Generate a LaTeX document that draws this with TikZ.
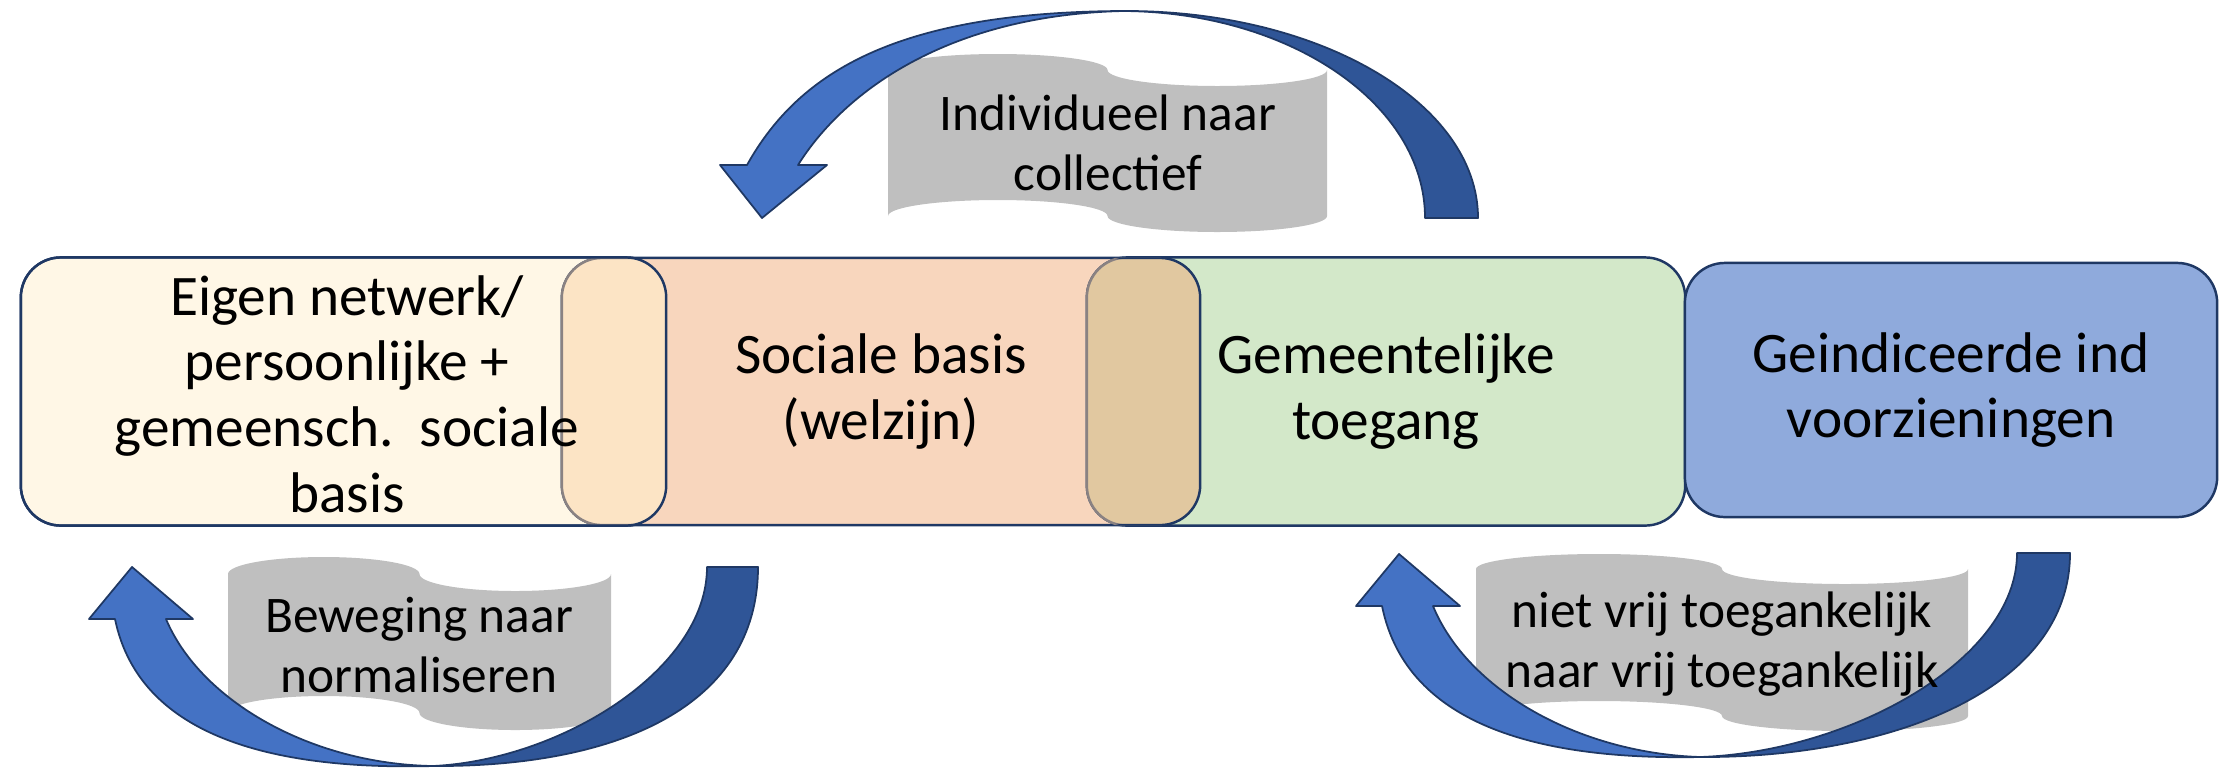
\documentclass[tikz,border=0pt]{standalone}
\usepackage{fontspec}
\setmainfont{Carlito}
\usepackage{xcolor}
\usepackage{tikz}

\definecolor{cream}{HTML}{FFF7E6}
\definecolor{peach}{HTML}{F8D6BD}
\definecolor{mint}{HTML}{D3E8C9}
\definecolor{steel}{HTML}{8FAADC}
\definecolor{overA}{HTML}{FCE4C5}
\definecolor{overB}{HTML}{E1C8A0}
\definecolor{navy}{HTML}{1F3864}
\definecolor{rimgray}{HTML}{8A8282}
\definecolor{tape}{HTML}{BFBFBF}
\definecolor{lightblue}{HTML}{4472C4}
\definecolor{darkblue}{HTML}{2F5597}

\begin{document}
\begin{tikzpicture}[x=0.01cm, y=-0.01cm,
    stage/.style={rounded corners=4mm, inner sep=0pt, outer sep=0pt, draw=navy, line width=0.7pt},
    rim/.style={rounded corners=4mm, line width=0.7pt},
    stagetext/.style={align=center, font=\fontsize{16.3}{18.7}\selectfont},
    tapetext/.style={align=center, font=\fontsize{14.6}{17}\selectfont},
    swoop/.style={draw=navy, line width=0.5pt, line join=round}]
    \useasboundingbox (0,0) rectangle (2219,769);

    \node[stage, fill=cream, minimum width=6.45cm, minimum height=2.68cm] (eigen) at (343.5,391.5) {};
    \node[stage, fill=peach, minimum width=6.38cm, minimum height=2.67cm] (sociaal) at (881,391.5) {};
    \node[stage, fill=mint, minimum width=5.98cm, minimum height=2.68cm] (toegang) at (1386,391.5) {};
    \node[stage, fill=steel, minimum width=5.32cm, minimum height=2.54cm] (indic) at (1951,390) {};

    \begin{scope}
      \clip[rounded corners=4mm] (eigen.south west) rectangle (eigen.north east);
      \fill[rim, overA] (sociaal.south west) rectangle (sociaal.north east);
      \draw[rim, rimgray] (sociaal.south west) rectangle (sociaal.north east);
    \end{scope}
    \begin{scope}
      \clip[rounded corners=4mm] (sociaal.south west) rectangle (sociaal.north east);
      \fill[rim, overB] (toegang.south west) rectangle (toegang.north east);
      \draw[rim, rimgray] (toegang.south west) rectangle (toegang.north east);
    \end{scope}
    \draw[rim, navy] (eigen.south west) rectangle (eigen.north east);
    \begin{scope}
      \clip[rounded corners=4mm] (toegang.south west) rectangle (toegang.north east);
      \draw[rim, navy] (sociaal.south west) rectangle (sociaal.north east);
    \end{scope}

    \foreach \x/\y/\q/\h/\a in {888/70/109.75/146/16, 228/574/95.75/139/17, 1476/569/123/147/15}
      \fill[tape] (\x,\y) arc[start angle=180, end angle=360, x radius=\q, y radius=\a]
        arc[start angle=180, end angle=0, x radius=\q, y radius=\a] -- ++(0,\h)
        arc[start angle=0, end angle=180, x radius=\q, y radius=\a]
        arc[start angle=360, end angle=180, x radius=\q, y radius=\a] -- cycle;

    \filldraw[swoop, fill=lightblue] (720,165) -- (762,218) -- (827,165) -- (798,165)
      .. controls (845,90) and (950,15) .. (1123,11)
      .. controls (900,12) and (800,70) .. (747,165) -- cycle;
    \filldraw[swoop, fill=darkblue] (1123,11) .. controls (1319,10) and (1478,103) .. (1478,218)
      -- (1425,218) .. controls (1425,104) and (1290,12) .. (1123,11) -- cycle;

    \filldraw[swoop, fill=lightblue] (89,619) -- (132,567) -- (193,619) -- (166,619)
      .. controls (200,700) and (310,764) .. (433,766)
      .. controls (280,770) and (140,740) .. (115,619) -- cycle;
    \filldraw[swoop, fill=darkblue] (433,766) .. controls (620,767) and (758,705) .. (758,567)
      -- (707,567) .. controls (707,670) and (560,760) .. (433,766) -- cycle;

    \filldraw[swoop, fill=lightblue] (1356,606) -- (1399,554) -- (1460,606) -- (1433,606)
      .. controls (1467,689) and (1577,753) .. (1700,757)
      .. controls (1547,760) and (1407,729) .. (1382,606) -- cycle;
    \filldraw[swoop, fill=darkblue] (1700,757) .. controls (1890,758) and (2070,690) .. (2070,553)
      -- (2017,553) .. controls (2017,660) and (1850,752) .. (1700,757) -- cycle;

    \node[stagetext] (eigenlabel) at (347,394) {Eigen netwerk/\\persoonlijke +\\gemeensch.\ \ sociale\\basis};
    \node[stagetext] (sociaallabel) at (sociaal) {Sociale basis\\(welzijn)};
    \node[stagetext] (toeganglabel) at (toegang) {Gemeentelijke\\toegang};
    \node[stagetext] (indiclabel) at (indic) {Geindiceerde ind\\voorzieningen};

    \node[tapetext] (collectief) at (1108,143) {Individueel naar\\collectief};
    \node[tapetext] (normaal) at (419,645) {Beweging naar\\normaliseren};
    \node[tapetext] (vrij) at (1722,644) {niet vrij toegankelijk\\naar vrij toegankelijk};
\end{tikzpicture}
\end{document}
